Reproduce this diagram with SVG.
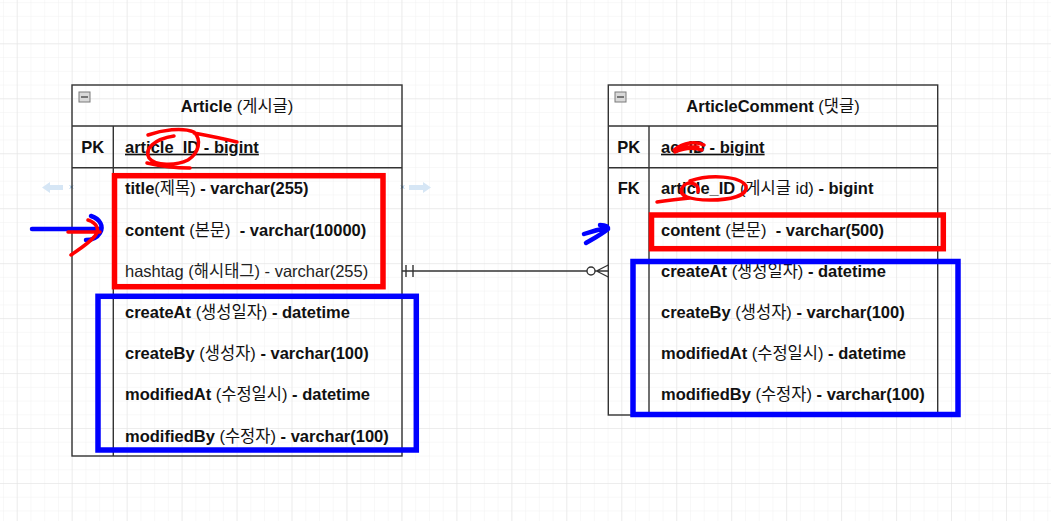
<svg xmlns="http://www.w3.org/2000/svg" width="1051" height="521" viewBox="0 0 1051 521">
<defs>
<pattern id="gmin" width="13.74" height="13.74" x="3" y="2.1" patternUnits="userSpaceOnUse">
<path d="M0 0H13.74M0 0V13.74" stroke="#f1f1f1" stroke-width="1" fill="none"/>
</pattern>
<pattern id="gmaj" width="54.96" height="54.96" x="16.7" y="43.3" patternUnits="userSpaceOnUse">
<path d="M0 0H54.96M0 0V54.96" stroke="#e2e2e2" stroke-width="1" fill="none"/>
</pattern>
<style>
.t{font-family:"Liberation Sans","Noto Sans CJK KR",sans-serif;font-size:16.5px;font-weight:bold;fill:#111;white-space:pre}
.k{font-weight:normal}
.n{font-weight:normal;fill:#222}
.h{text-anchor:middle}
.u{text-decoration:underline}
.bd{fill:none;stroke:#333;stroke-width:1.4}
.ic{fill:#d9d9d9;stroke:#7a7a7a;stroke-width:1}
.red{fill:none;stroke:#ff0000;stroke-width:5.5}
.blue{fill:none;stroke:#0000ff;stroke-width:5.5}
.rs{fill:none;stroke:#ff0000;stroke-width:3.5;stroke-linecap:round;stroke-linejoin:round}
.bs{fill:none;stroke:#0000ff;stroke-width:4.5;stroke-linecap:round;stroke-linejoin:round}
.hint{fill:#d6e6f5}
.hx{stroke:#6fa8dc;stroke-width:1}
</style>
</defs>
<rect width="1051" height="521" fill="#ffffff"/>
<rect width="1051" height="521" fill="url(#gmin)"/>
<rect width="1051" height="521" fill="url(#gmaj)"/>

<g id="hints">
<polygon class="hint" points="42,187.5 50,182 50,185 63,185 63,190 50,190 50,193"/>
<polygon class="hint" points="431,187.5 423,182 423,185 409,185 409,190 423,190 423,193"/>
<path class="hx" d="M70 185.5l3 3M73 185.5l-3 3M401 185.5l3 3M404 185.5l-3 3"/>
</g>

<g id="article">
<rect class="bd" x="72" y="85" width="330" height="371"/>
<line class="bd" x1="72" y1="126" x2="402" y2="126"/>
<line class="bd" x1="72" y1="167.7" x2="402" y2="167.7"/>
<line class="bd" x1="113.3" y1="126" x2="113.3" y2="456"/>
<rect class="ic" x="79" y="92" width="11" height="10"/>
<line x1="81" y1="97" x2="88" y2="97" stroke="#333" stroke-width="1.2"/>
<text class="t h" x="237" y="111.7">Article <tspan class="k">(게시글)</tspan></text>
<text class="t h" x="92.7" y="152.7">PK</text>
<text class="t u" x="125" y="152.7">article_ID - bigint</text>
<text class="t" x="125" y="194.3">title<tspan class="k">(제목)</tspan> - varchar(255)</text>
<text class="t" x="125" y="235.5">content <tspan class="k">(본문)</tspan>  - varchar(10000)</text>
<text class="t n" x="125" y="276.7">hashtag (해시태그) - varchar(255)</text>
<text class="t" x="125" y="317.9">createAt <tspan class="k">(생성일자)</tspan> - datetime</text>
<text class="t" x="125" y="359.1">createBy <tspan class="k">(생성자)</tspan> - varchar(100)</text>
<text class="t" x="125" y="400.3">modifiedAt <tspan class="k">(수정일시)</tspan> - datetime</text>
<text class="t" x="125" y="441.5">modifiedBy <tspan class="k">(수정자)</tspan> - varchar(100)</text>
</g>

<g id="articleComment">
<rect class="bd" x="608.3" y="85" width="329.4" height="330"/>
<line class="bd" x1="608.3" y1="126" x2="937.7" y2="126"/>
<line class="bd" x1="608.3" y1="167.7" x2="937.7" y2="167.7"/>
<line class="bd" x1="649" y1="126" x2="649" y2="415"/>
<rect class="ic" x="615" y="92" width="11" height="10"/>
<line x1="617" y1="97" x2="624" y2="97" stroke="#333" stroke-width="1.2"/>
<text class="t h" x="773" y="111.7">ArticleComment <tspan class="k">(댓글)</tspan></text>
<text class="t h" x="628.7" y="152.7">PK</text>
<text class="t u" x="661" y="152.7">ac_ID - bigint</text>
<text class="t h" x="628.7" y="194.3">FK</text>
<text class="t" x="661" y="194.3">article_ID <tspan class="k">(게시글 id)</tspan> - bigint</text>
<text class="t" x="661" y="235.5">content <tspan class="k">(본문)</tspan>  - varchar(500)</text>
<text class="t" x="661" y="276.7">createAt <tspan class="k">(생성일자)</tspan> - datetime</text>
<text class="t" x="661" y="317.9">createBy <tspan class="k">(생성자)</tspan> - varchar(100)</text>
<text class="t" x="661" y="359.1">modifiedAt <tspan class="k">(수정일시)</tspan> - datetime</text>
<text class="t" x="661" y="400.3">modifiedBy <tspan class="k">(수정자)</tspan> - varchar(100)</text>
</g>

<g id="connectors">
<line class="bd" x1="402" y1="271" x2="587" y2="271"/>
<line class="bd" x1="406" y1="265" x2="406" y2="277"/>
<line class="bd" x1="413" y1="265" x2="413" y2="277"/>
<circle class="bd" cx="591" cy="271" r="4" fill="#fff"/>
<path class="bd" d="M595 271H608.3M596.5 271L608.3 265M596.5 271L608.3 277"/>
</g>

<g id="annotations">
<rect class="red" x="114.5" y="175.7" width="268.5" height="111"/>
<rect class="blue" x="98" y="296.3" width="318.3" height="153.7"/>
<rect class="red" x="651.5" y="215" width="291.8" height="33.7"/>
<rect class="blue" x="633" y="261.5" width="325" height="153"/>
<path class="rs" d="M148 135C162 130 182 127 194 132C202 140 199 153 188 160C176 166 155 166 149 158C144 149 154 139 174 136M194 133C210 136 225 139 237 142M147 163C160 166 175 168 190 168"/>
<path class="rs" stroke-width="6" d="M674 150C684 142 696 141 704 145M675 152C686 147 696 148 702 150M678 147L698 147"/>
<path class="rs" d="M690 181C710 174 740 176 746 186C748 196 730 200 710 200C690 200 678 196 682 188C686 180 700 182 698 192M657 202C670 200 680 199 690 198"/>
<path class="bs" stroke-width="5" d="M32 229L100 229M91 216C100 219 104 226 100 233C97 238 92 240 86 240"/>
<path class="rs" stroke-width="4" d="M68 232L100 232M88 220C97 223 100 230 95 236C88 244 78 250 71 255"/>
<path class="bs" d="M584 234C592 231 600 229 608 228M600 225C604 225 608 226 608 229C602 234 593 239 586 243"/>
</g>
</svg>
